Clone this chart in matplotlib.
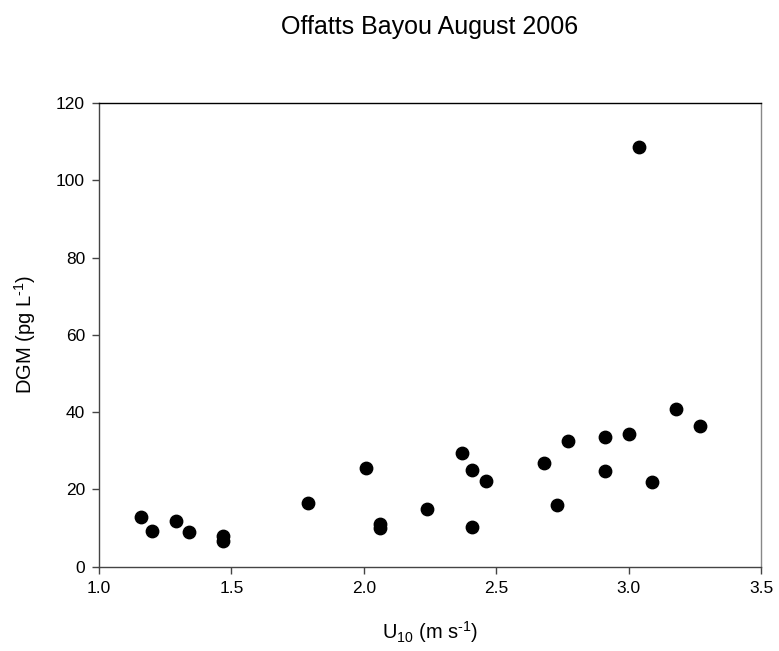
import matplotlib
matplotlib.use('Agg')
import matplotlib.pyplot as plt

plt.rcParams['font.family'] = ['Liberation Sans', 'DejaVu Sans']
plt.rcParams['mathtext.fontset'] = 'custom'
plt.rcParams['mathtext.rm'] = 'Liberation Sans'
plt.rcParams['mathtext.it'] = 'Liberation Sans'

# wind speed at 10 m (m/s) and dissolved gaseous mercury (pg/L)
u10 = [1.16, 1.20, 1.29, 1.34, 1.47, 1.47, 1.79, 2.01, 2.06, 2.06,
       2.24, 2.37, 2.41, 2.46, 2.41, 2.68, 2.73, 2.77, 2.91, 2.91,
       3.00, 3.04, 3.09, 3.18, 3.27]
dgm = [12.9, 9.3, 11.7, 8.9, 8.0, 6.7, 16.4, 25.5, 11.1, 10.1,
       14.9, 29.5, 24.9, 22.2, 10.3, 26.8, 16.0, 32.4, 33.6, 24.8,
       34.4, 108.7, 21.8, 40.8, 36.4]

xticks = [1.0, 1.5, 2.0, 2.5, 3.0, 3.5]
yticks = [0, 20, 40, 60, 80, 100, 120]

fig = plt.figure(figsize=(7.79, 6.51), dpi=100)
ax = fig.add_axes([0.127, 0.1295, 0.85, 0.7123])

ax.scatter(u10, dgm, s=80, color='black', zorder=3, clip_on=False)

ax.set_xlim(1.0, 3.5)
ax.set_ylim(0, 120)
ax.set_xticks(xticks)
ax.set_xticklabels(['%.1f' % t for t in xticks])
ax.set_yticks(yticks)
ax.tick_params(direction='out', length=5, width=1, pad=5, labelsize=12.5, color='#444444')
for side in ['left', 'bottom', 'top', 'right']:
    ax.spines[side].set_linewidth(1)
ax.spines['left'].set_color('#444444')
ax.spines['bottom'].set_color('#444444')
ax.spines['right'].set_color('#888888')

ax.set_xlabel(r'U$_{10}$ (m s$^{\text{-1}}$)', fontsize=14.5, labelpad=17)
ax.set_ylabel(r'DGM (pg L$^{\text{-1}}$)', fontsize=14.5, labelpad=13)
ax.set_title('Offatts Bayou August 2006', fontsize=18, pad=50)

plt.savefig('out.png', dpi=100)
plt.close('all')
